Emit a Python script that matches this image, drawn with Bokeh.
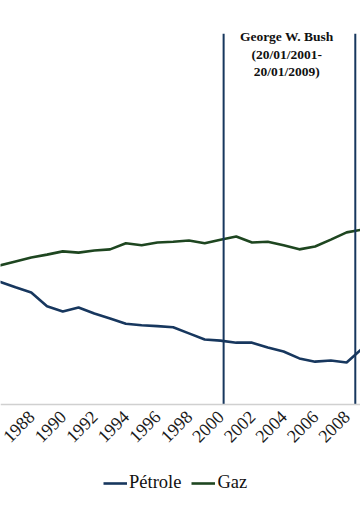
from bokeh.plotting import figure
from bokeh.models import ColumnDataSource, FixedTicker, Legend, LegendItem, Range1d
from bokeh.core.properties import value
from bokeh.embed import file_html
from bokeh.resources import INLINE

# ---- data (y scale arbitrary, no axis visible) ----
years = list(range(1986, 2010))
petrole = [30.4, 29.0, 27.7, 24.3, 23.0, 24.0, 22.5, 21.3, 20.0, 19.6, 19.4, 19.1,
           17.6, 16.1, 15.8, 15.3, 15.3, 14.1, 13.1, 11.4, 10.6, 10.9, 10.4, 13.9]
gaz = [34.4, 35.4, 36.4, 37.1, 37.9, 37.6, 38.1, 38.4, 39.9, 39.4, 40.1, 40.3,
       40.6, 39.9, 40.8, 41.6, 40.1, 40.3, 39.4, 38.4, 39.1, 40.8, 42.6, 43.3]
tick_years = [1988, 1990, 1992, 1994, 1996, 1998, 2000, 2002, 2004, 2006, 2008]
series_names = ["Pétrole", "Gaz"]
series_colors = ["#17375E", "#1E4620"]

# Bush term markers (as drawn on the category axis)
term_lines_x = [2000.2, 2008.55]
term_line_top = 91.8
annotation_lines = ["George W. Bush", "(20/01/2001-", "20/01/2009)"]
annotation_x = 2004.2
annotation_y = [91.0, 86.6, 82.4]

serif = "Liberation Serif"

p = figure(frame_width=360, frame_height=507, output_backend="svg", toolbar_location=None,
           x_range=Range1d(1986.05, 2008.88), y_range=Range1d(-25.5, 100),
           min_border_left=0, min_border_right=0, min_border_top=0,
           min_border_bottom=0, y_axis_location=None)
p.background_fill_color = "white"
p.border_fill_color = "white"
p.outline_line_color = None
p.xgrid.visible = False
p.ygrid.visible = False

src = ColumnDataSource(dict(year=years, petrole=petrole, gaz=gaz))
r_pet = p.line("year", "petrole", source=src, line_color=series_colors[0], line_width=2.6)
r_gaz = p.line("year", "gaz", source=src, line_color=series_colors[1], line_width=2.6)

# vertical term lines
p.segment(x0=term_lines_x, y0=[0, 0], x1=term_lines_x, y1=[term_line_top] * 2,
          line_color="#17375E", line_width=2)

asrc = ColumnDataSource(dict(x=[annotation_x] * 3, y=annotation_y, t=annotation_lines))
p.text("x", "y", text="t", source=asrc, text_align="center", text_baseline="middle",
       text_font=value(serif), text_font_size="13.5px", text_font_style="bold",
       text_color="#111111")

ax = p.xaxis[0]
ax.fixed_location = 0
ax.ticker = FixedTicker(ticks=tick_years)
ax.axis_line_color = "#D0D0D0"
ax.axis_line_width = 1.5
ax.major_tick_line_color = None
ax.minor_tick_line_color = None
ax.major_tick_out = 0
ax.major_tick_in = 0
ax.major_label_standoff = 9
ax.major_label_orientation = 0.785398
ax.major_label_text_font = serif
ax.major_label_text_font_size = "18px"
ax.major_label_text_color = "#1a1a1a"

legend = Legend(items=[LegendItem(label=series_names[0], renderers=[r_pet]),
                       LegendItem(label=series_names[1], renderers=[r_gaz])],
                orientation="horizontal", location=(103, 14))
legend.label_text_font = serif
legend.label_text_font_size = "18.5px"
legend.label_text_color = "#111111"
legend.border_line_color = None
legend.background_fill_alpha = 0
legend.glyph_width = 24
legend.glyph_height = 20
legend.label_height = 20
legend.label_standoff = 2
legend.spacing = 10
legend.padding = 0
legend.margin = 0
p.add_layout(legend, "center")

open("out.html", "w").write(file_html(p, INLINE))
